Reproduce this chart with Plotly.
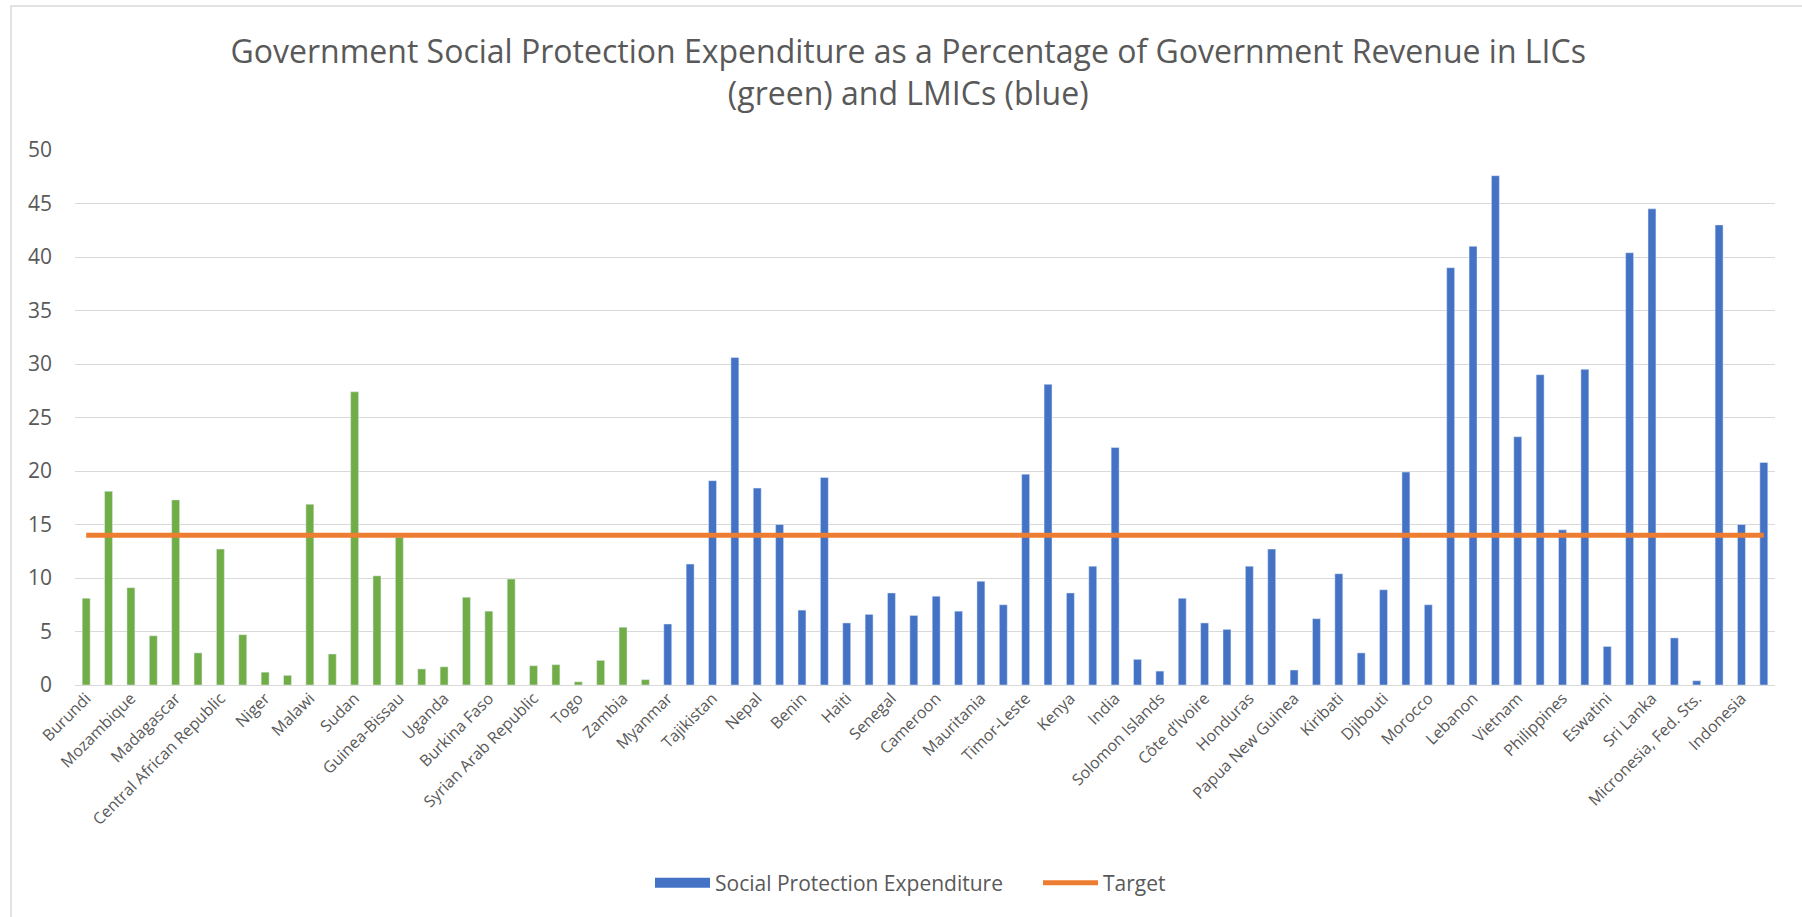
import plotly.graph_objects as go

# Countries shown on the category axis (every second bar carries a label)
tick_labels = [
    "Burundi", "Mozambique", "Madagascar", "Central African Republic", "Niger",
    "Malawi", "Sudan", "Guinea-Bissau", "Uganda", "Burkina Faso",
    "Syrian Arab Republic", "Togo", "Zambia", "Myanmar", "Tajikistan", "Nepal",
    "Benin", "Haiti", "Senegal", "Cameroon", "Mauritania", "Timor-Leste",
    "Kenya", "India", "Solomon Islands", "Côte d\u2019Ivoire", "Honduras",
    "Papua New Guinea", "Kiribati", "Djibouti", "Morocco", "Lebanon", "Vietnam",
    "Philippines", "Eswatini", "Sri Lanka", "Micronesia, Fed. Sts.", "Indonesia",
]

# Social protection expenditure, % of government revenue
lic_values = [
    8.1, 18.1, 9.1, 4.6, 17.3, 3.0, 12.7, 4.7, 1.2, 0.9, 16.9, 2.9, 27.4,
    10.2, 13.8, 1.5, 1.7, 8.2, 6.9, 9.9, 1.8, 1.9, 0.3, 2.3, 5.4, 0.5,
]
lmic_values = [
    5.7, 11.3, 19.1, 30.6, 18.4, 15.0, 7.0, 19.4, 5.8, 6.6, 8.6, 6.5, 8.3,
    6.9, 9.7, 7.5, 19.7, 28.1, 8.6, 11.1, 22.2, 2.4, 1.3, 8.1, 5.8, 5.2,
    11.1, 12.7, 1.4, 6.2, 10.4, 3.0, 8.9, 19.9, 7.5, 39.0, 41.0, 47.6, 23.2,
    29.0, 14.5, 29.5, 3.6, 40.4, 44.5, 4.4, 0.4, 43.0, 15.0, 20.8,
]
target_value = 14

n_lic = len(lic_values)
n_all = n_lic + len(lmic_values)
x_lic = list(range(n_lic))
x_lmic = list(range(n_lic, n_all))
x_all = list(range(n_all))
tick_positions = x_all[::2][:len(tick_labels)]

GREEN = "#70AD47"
BLUE = "#4472C4"
ORANGE = "#ED7D31"
TEXT = "#595959"
GRID = "#D9D9D9"
FONT = "Open Sans"

W, H = 1802, 917
ML, MR, MT, MB = 75, 27, 150, 232
PW = W - ML - MR
PH = H - MT - MB

fig = go.Figure()
fig.add_trace(go.Bar(
    x=x_lic, y=lic_values, marker_color=GREEN, showlegend=False,
    name="LICs", legendgroup="spend",
))
fig.add_trace(go.Bar(
    x=x_lmic, y=lmic_values, marker_color=BLUE, showlegend=False,
    name="LMICs", legendgroup="spend",
))
# wide swatch for the expenditure series in the legend
fig.add_trace(go.Scatter(
    x=[None], y=[None], mode="lines", legendgroup="spend",
    line=dict(color=BLUE, width=14), name="Social Protection Expenditure",
))
fig.add_trace(go.Scatter(
    x=x_all, y=[target_value] * n_all, mode="lines",
    line=dict(color=ORANGE, width=5), name="Target",
))


def px_to_paper_x(px):
    return (px - ML) / PW


def px_to_paper_y(py):
    return (H - MB - py) / PH


# chart-area border (left and top edges visible)
fig.add_shape(
    type="rect", xref="paper", yref="paper",
    x0=px_to_paper_x(11), x1=px_to_paper_x(W + 10),
    y0=px_to_paper_y(H + 10), y1=px_to_paper_y(6),
    line=dict(color=GRID, width=1.5), fillcolor="rgba(0,0,0,0)", layer="below",
)

fig.update_layout(
    width=W, height=H,
    margin=dict(l=ML, r=MR, t=MT, b=MB),
    paper_bgcolor="white", plot_bgcolor="white",
    barmode="overlay", bargap=0.645,
    font=dict(family=FONT, color=TEXT),
    title=dict(
        text="Government Social Protection Expenditure as a Percentage of Government Revenue in LICs<br>(green) and LMICs (blue)",
        x=0.504, xanchor="center", xref="container",
        y=1 - 63 / H, yanchor="top", yref="container",
        font=dict(family=FONT, size=32, color=TEXT),
    ),
    xaxis=dict(
        range=[-0.5, n_all - 0.5],
        tickmode="array", tickvals=tick_positions, ticktext=tick_labels,
        tickangle=-45, tickfont=dict(size=16, color=TEXT),
        showgrid=False, showline=False, zeroline=False, ticks="",
    ),
    yaxis=dict(
        range=[0, 50], dtick=5, tick0=0,
        showgrid=True, gridcolor=GRID, gridwidth=1.3,
        zeroline=True, zerolinecolor=GRID, zerolinewidth=1.3,
        showline=False, ticks="", ticklabelstandoff=22,
        tickfont=dict(size=21, color=TEXT),
    ),
    legend=dict(
        orientation="h", x=px_to_paper_x(650), xanchor="left",
        y=px_to_paper_y(883), yanchor="middle",
        font=dict(size=21, color=TEXT), itemwidth=55,
        entrywidth=318, entrywidthmode="pixels",
        bgcolor="rgba(0,0,0,0)",
    ),
)

fig.write_html("out.html")
